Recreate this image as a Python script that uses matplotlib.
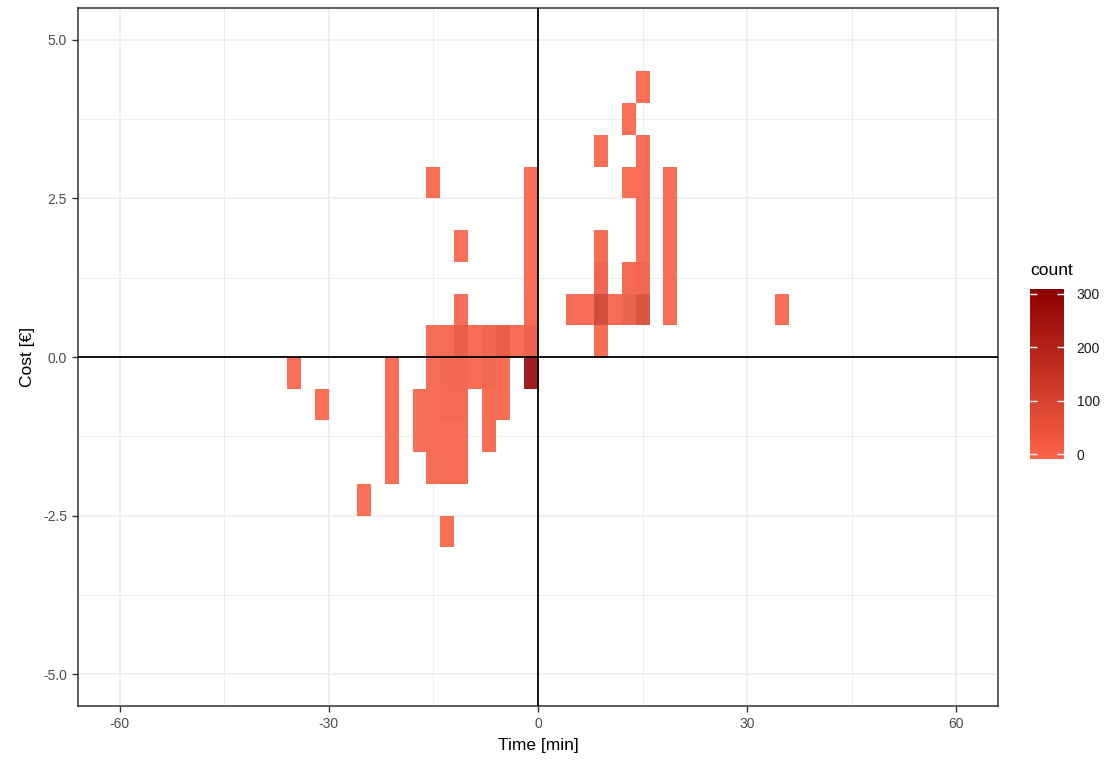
import matplotlib
matplotlib.use("Agg")
import matplotlib.pyplot as plt
import numpy as np
from matplotlib.colors import LinearSegmentedColormap, Normalize

# Binned trips: centre of each 2 min x 0.5 EUR cell and the number of trips in it
time_min = [-35, -31, -25,
            -21, -21, -21, -21,
            -17, -17,
            -15, -15, -15, -15, -15, -15,
            -13, -13, -13, -13, -13, -13,
            -11, -11, -11, -11, -11, -11, -11,
            -9, -9,
            -7, -7, -7, -7,
            -5, -5, -5,
            -3,
            -1, -1, -1, -1, -1, -1, -1,
            5, 7,
            9, 9, 9, 9, 9,
            11,
            13, 13, 13, 13,
            15, 15, 15, 15, 15, 15, 15,
            19, 19, 19, 19, 19,
            35]
cost_eur = [-0.25, -0.75, -2.25,
            -0.25, -0.75, -1.25, -1.75,
            -0.75, -1.25,
            -1.75, -1.25, -0.75, -0.25, 0.25, 2.75,
            -1.75, -1.25, -0.75, -0.25, 0.25, -2.75,
            -1.75, -1.25, -0.75, -0.25, 0.25, 0.75, 1.75,
            -0.25, 0.25,
            -1.25, -0.75, -0.25, 0.25,
            -0.75, -0.25, 0.25,
            0.25,
            -0.25, 0.25, 0.75, 1.25, 1.75, 2.25, 2.75,
            0.75, 0.75,
            0.25, 0.75, 1.25, 1.75, 3.25,
            0.75,
            0.75, 1.25, 2.75, 3.75,
            0.75, 1.25, 1.75, 2.25, 2.75, 3.25, 4.25,
            0.75, 1.25, 1.75, 2.25, 2.75,
            0.75]
count = [5, 5, 5,
         5, 5, 5, 5,
         8, 8,
         10, 10, 10, 10, 12, 5,
         12, 12, 22, 25, 15, 5,
         10, 12, 22, 28, 60, 8, 5,
         10, 12,
         8, 12, 28, 35,
         12, 12, 60,
         8,
         285, 45, 15, 8, 8, 8, 8,
         10, 10,
         10, 120, 35, 10, 5,
         15,
         40, 20, 5, 5,
         95, 30, 12, 10, 8, 8, 5,
         8, 8, 8, 8, 8,
         8]

x_ticks = [-60, -30, 0, 30, 60]
y_ticks = [-5.0, -2.5, 0.0, 2.5, 5.0]
fill_ticks = [0, 100, 200, 300]

plt.rcParams['font.family'] = ['Liberation Sans', 'DejaVu Sans']
plt.rcParams['axes.unicode_minus'] = False

fig = plt.figure(figsize=(11.15, 7.65), dpi=100, facecolor='white')
ax = fig.add_axes([78 / 1115, 1 - 706 / 765, 920 / 1115, 698 / 765])

# Grid (theme_bw look)
ax.set_xticks(x_ticks)
ax.set_xticks([-45, -15, 15, 45], minor=True)
ax.set_yticks(y_ticks)
ax.set_yticks([-3.75, -1.25, 1.25, 3.75], minor=True)
ax.grid(which='major', color='#EBEBEB', linewidth=1.1, zorder=0)
ax.grid(which='minor', color='#EBEBEB', linewidth=0.6, zorder=0)
ax.set_axisbelow(True)

cmap = LinearSegmentedColormap.from_list('fill', ['#FF6347', '#8B0000'])
norm = Normalize(vmin=-9, vmax=309)

x_edges = np.arange(-38, 40, 2)
y_edges = np.arange(-3.5, 5.0, 0.5)
h = ax.hist2d(time_min, cost_eur, bins=[x_edges, y_edges], weights=count,
              cmap=cmap, norm=norm, cmin=1, zorder=2, alpha=0.9)

ax.axhline(0, color='black', linewidth=1.3, zorder=3)
ax.axvline(0, color='black', linewidth=1.3, zorder=3)

ax.set_xlim(-66, 66)
ax.set_ylim(-5.5, 5.5)
ax.set_xticklabels([str(t) for t in x_ticks])
ax.set_yticklabels([f'{t:.1f}' for t in y_ticks])
ax.tick_params(which='major', length=4, width=1, color='#333333',
               labelsize=10, labelcolor='#4D4D4D', pad=4)
ax.tick_params(which='minor', length=0)
for s in ax.spines.values():
    s.set_color('#333333')
    s.set_linewidth(1.1)

ax.set_xlabel('Time [min]', fontsize=12.5, color='black', labelpad=5)
ax.set_ylabel('Cost [€]', fontsize=12.5, color='black', labelpad=6)

# Colour bar legend (drawn without the tile transparency)
sm = plt.cm.ScalarMappable(cmap=cmap, norm=norm)
cax = fig.add_axes([1030 / 1115, 1 - 459 / 765, 34 / 1115, 170 / 765])
cb = fig.colorbar(sm, cax=cax, ticks=fill_ticks)
cb.outline.set_visible(False)
cax.tick_params(direction='in', length=5, width=1, color='white',
                left=True, right=True, labelsize=10, labelcolor='#1A1A1A', pad=9)
fig.text(1030 / 1115, 1 - 270 / 765, 'count', fontsize=12.5, va='center', ha='left')

fig.savefig('out.png', dpi=100, facecolor='white')
